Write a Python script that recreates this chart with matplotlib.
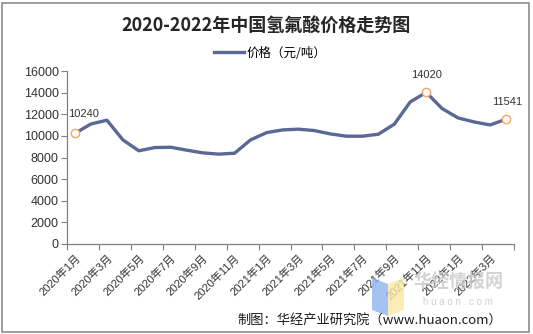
import matplotlib
matplotlib.use("Agg")
import matplotlib.pyplot as plt
from matplotlib.patches import Polygon, Rectangle

# monthly price, 2020-01 .. 2022-04
months = [f"{y}年{m}月" for y in (2020, 2021) for m in range(1, 13)] + \
         [f"2022年{m}月" for m in range(1, 5)]
prices = [10240, 11100, 11450, 9630, 8620, 8920, 8950, 8680, 8430, 8310,
          8400, 9630, 10300, 10550, 10620, 10490, 10180, 9970, 9970, 10150,
          11080, 13140, 14020, 12520, 11660, 11290, 11010, 11541]
labelled = [0, 22, 27]   # points with value labels
yticks = [0, 2000, 4000, 6000, 8000, 10000, 12000, 14000, 16000]

LAT = ["Liberation Sans", "Noto Sans CJK SC"]
CJK = ["Noto Sans CJK SC", "DejaVu Sans"]
W, H = 533, 334

fig = plt.figure(figsize=(W / 100, H / 100), dpi=100)
fig.patch.set_facecolor("white")
fig.patches.append(Rectangle((2 / W, 2 / H), 527 / W, 329 / H, transform=fig.transFigure,
                             fill=False, edgecolor="#8c8c8c", linewidth=1.2))

ax = fig.add_axes([67 / W, 90 / H, 447 / W, 173 / H])
x = list(range(len(prices)))
line, = ax.plot(x, prices, color="#5b6794", linewidth=2.4, solid_joinstyle="round",
                label="价格（元/吨）")
for i in labelled:
    ax.plot(x[i], prices[i], "o", markersize=6, markerfacecolor="white",
            markeredgecolor="#f5a462", markeredgewidth=1.0)
ax.annotate(str(prices[0]), (x[0], prices[0]), xytext=(6, 10), textcoords="offset points",
            ha="center", va="bottom", fontsize=8, family=LAT, color="#333333")
ax.annotate(str(prices[22]), (x[22], prices[22]), xytext=(0, 9), textcoords="offset points",
            ha="center", va="bottom", fontsize=8, family=LAT, color="#333333")
ax.annotate(str(prices[27]), (x[27], prices[27]), xytext=(1, 9), textcoords="offset points",
            ha="center", va="bottom", fontsize=8, family=LAT, color="#333333")

ax.set_xlim(-0.5, len(prices) - 0.5)
ax.set_ylim(0, 16000)
ax.set_yticks(yticks)
ax.set_yticklabels([str(v) for v in yticks], fontsize=9, family=LAT, color="#333333")
ax.set_xticks([i - 0.5 for i in range(0, len(prices) + 1, 2)])
ax.set_xticklabels([])
ax.set_xticks(list(range(0, len(prices), 2)), minor=True)
ax.set_xticklabels(months[::2], minor=True, rotation=45, ha="right",
                   rotation_mode="anchor", fontsize=8, family=LAT, color="#333333")
ax.tick_params(axis="x", which="major", length=4, color="#808080", direction="out")
ax.tick_params(axis="x", which="minor", length=0, pad=6)
ax.tick_params(axis="y", length=4, color="#808080", direction="out", pad=2)
for s in ("top", "right"):
    ax.spines[s].set_visible(False)
for s in ("left", "bottom"):
    ax.spines[s].set_color("#808080")
    ax.spines[s].set_linewidth(0.9)

fig.text(0.5, 1 - 25 / H, "2020-2022年中国氢氟酸价格走势图", ha="center", va="center",
         fontsize=13, fontweight="bold", family=CJK, color="#262626")
fig.legend(handles=[line], loc="center", bbox_to_anchor=(270 / W, 1 - 53 / H),
           frameon=False, prop={"family": CJK, "size": 9}, handlelength=2.4,
           handletextpad=0.2)

# watermark
fig.patches.append(Polygon([(372 / W, 56 / H), (388 / W, 50 / H), (388 / W, 18 / H), (372 / W, 24 / H)],
                           closed=True, transform=fig.transFigure, facecolor="#8db4f0", alpha=0.8))
fig.patches.append(Polygon([(388 / W, 50 / H), (404 / W, 56 / H), (404 / W, 24 / H), (388 / W, 18 / H)],
                           closed=True, transform=fig.transFigure, facecolor="#fbe7a2", alpha=0.8))
fig.text(458 / W, 1 - 282 / H, "华经情报网", ha="center", va="center", fontsize=13,
         fontweight="bold", family=CJK, color="#c8c8c8", alpha=0.8)
fig.text(458 / W, 1 - 302 / H, "h u a o n . c o m", ha="center", va="center", fontsize=7,
         family=LAT, color="#d0d0d0")

fig.text(502 / W, 1 - 320 / H, "制图：华经产业研究院（www.huaon.com）", ha="right",
         va="center", fontsize=9.5, family=["Noto Sans CJK SC", "DejaVu Sans"], color="#1a1a1a")

fig.savefig("out.png", dpi=100)
